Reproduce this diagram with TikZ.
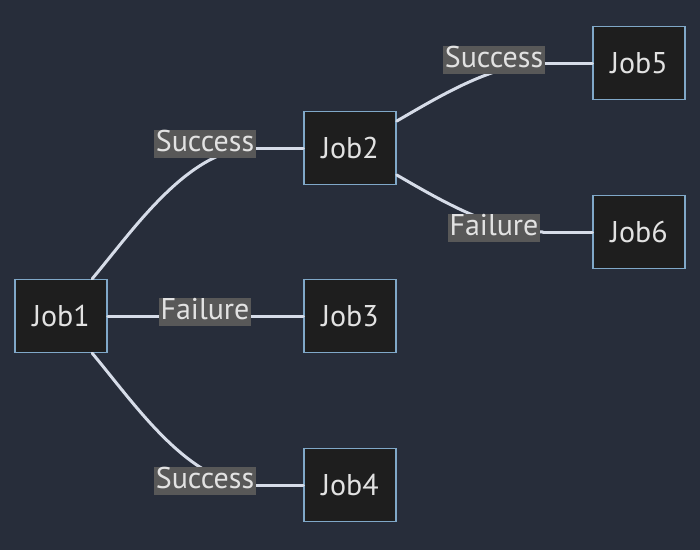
\documentclass[tikz,border=0pt]{standalone}
\usepackage{fontspec}
\setmainfont{PT Sans}
\usetikzlibrary{positioning}
\definecolor{bgcol}{RGB}{39,45,58}
\definecolor{boxfill}{RGB}{30,30,30}
\definecolor{boxline}{RGB}{128,168,200}
\definecolor{lblfill}{RGB}{88,88,88}
\definecolor{txtcol}{RGB}{226,226,226}
\definecolor{linecol}{RGB}{214,220,232}
\tikzset{
  job/.style = {draw = boxline, fill = boxfill, line width = 1.5pt, text = txtcol,
    minimum width = 92pt, minimum height = 73pt, font = \fontsize{30}{34}\selectfont},
  lbl/.style = {fill = lblfill, text = txtcol, inner xsep = 1.5pt, inner ysep = 0.5pt,
    text height = 20.5pt, text depth = 6pt, font = \fontsize{30}{34}\selectfont},
  flow/.style = {draw = linecol, line width = 3pt, line cap = round}
}

\begin{document}
\begin{tikzpicture} [x = 1pt, y = 1pt, on grid]
\fill [bgcol] (0,0) rectangle (700,-550);
\useasboundingbox (0,0) rectangle (700,-550);
\node (job1) [job] at (61,-316) {Job1};
\node (job3) [job, right = 289pt of job1] {Job3};
\node (job2) [job, above = 168pt of job3] {Job2};
\node (job4) [job, below = 169pt of job3] {Job4};
\node (job5) [job, above right = 85pt and 289pt of job2] {Job5};
\node (job6) [job, below right = 84pt and 289pt of job2] {Job6};
\coordinate [left = 96pt of job2] (b12);
\coordinate [left = 96pt of job4] (b14);
\coordinate [left = 96pt of job5] (b25);
\coordinate [left = 96pt of job6] (b26);
\path [flow]
    (job1) edge [out = 50, in = 180, looseness = 0.8] (b12)
    (b12) edge (job2)
    (job1) edge (job3)
    (job1) edge [out = -50, in = 180, looseness = 0.8] (b14)
    (b14) edge (job4)
    (job2) edge [out = 30, in = 180, looseness = 0.8] (b25)
    (b25) edge (job5)
    (job2) edge [out = -30, in = 180, looseness = 0.8] (b26)
    (b26) edge (job6);
\node (s12) [lbl, left = 145pt of job2, yshift = 4pt] {Success};
\node (f13) [lbl, left = 145pt of job3, yshift = 4pt] {Failure};
\node (s14) [lbl, left = 145pt of job4, yshift = 4pt] {Success};
\node (s25) [lbl, left = 145pt of job5, yshift = 3pt] {Success};
\node (f26) [lbl, left = 145pt of job6, yshift = 4pt] {Failure};
\end{tikzpicture}
\end{document}
